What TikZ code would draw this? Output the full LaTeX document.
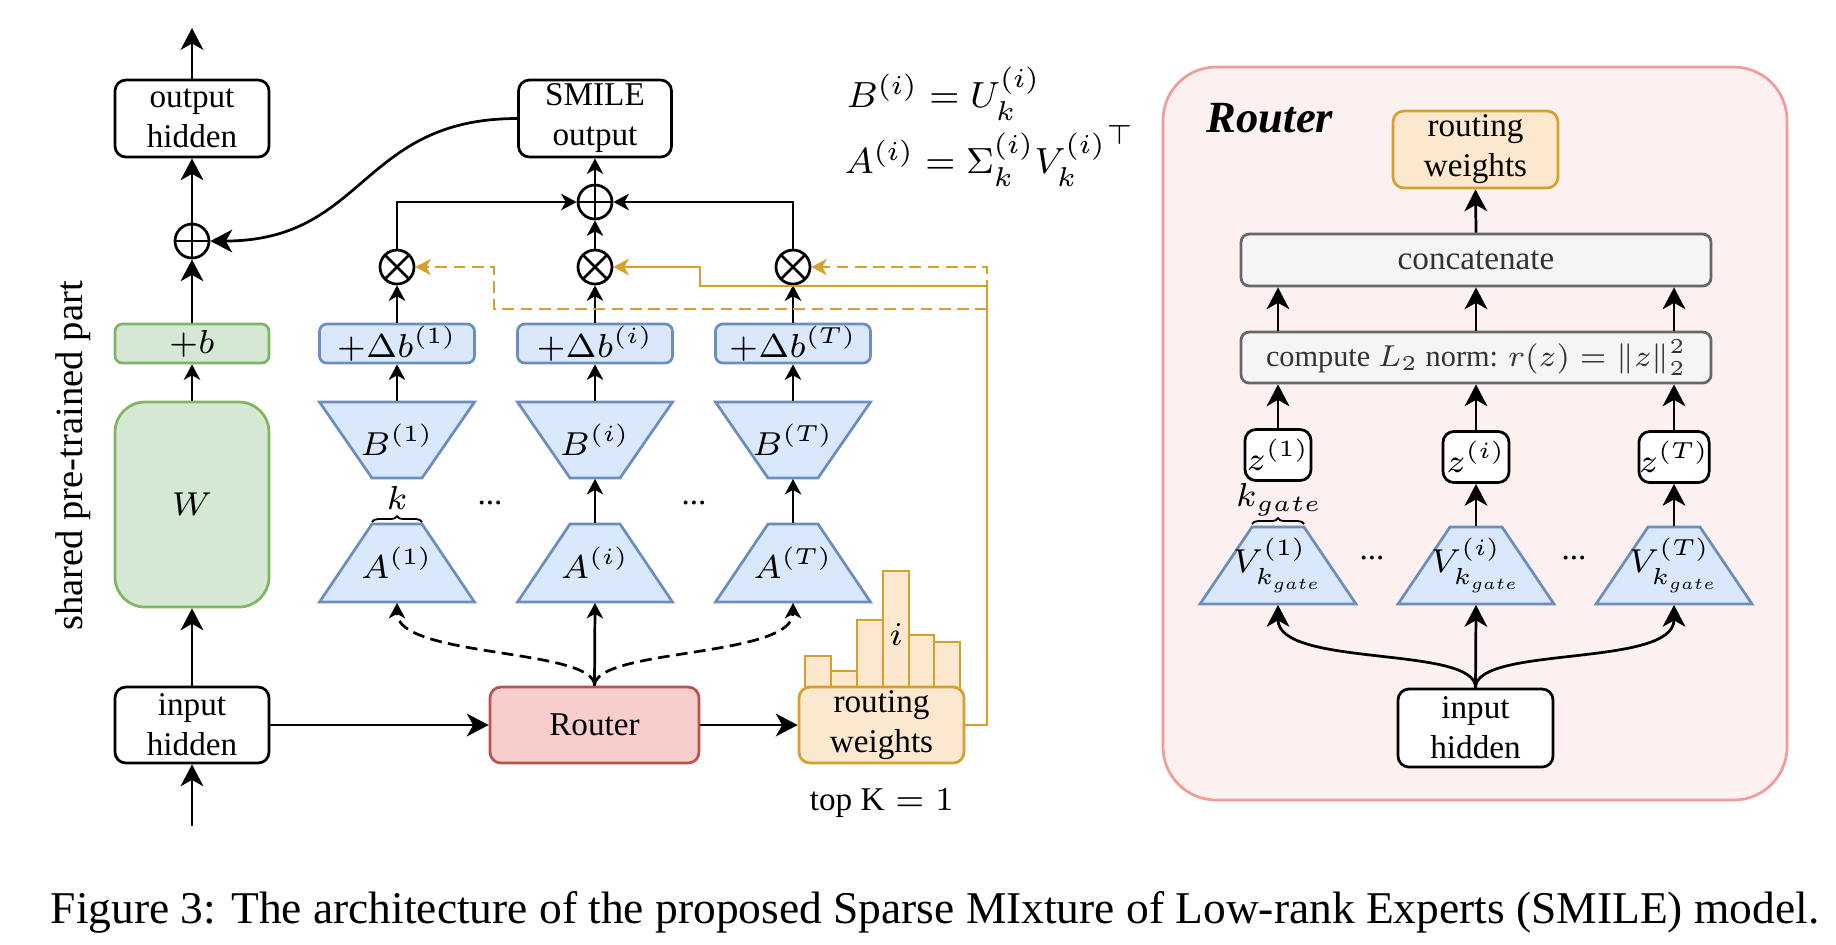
\RequirePackage{fix-cm}
\documentclass[tikz,border=0pt]{standalone}
\usepackage{fontspec}
\setmainfont{Liberation Serif}
\usetikzlibrary{arrows.meta,decorations.pathreplacing,calc}

\definecolor{grnF}{HTML}{D5E8D4}\definecolor{grnD}{HTML}{82B366}
\definecolor{bluF}{HTML}{DAE8FC}\definecolor{bluD}{HTML}{6C8EBF}
\definecolor{redF}{HTML}{F8CECC}\definecolor{redD}{HTML}{B85450}
\definecolor{orgF}{HTML}{FCE7CF}\definecolor{ylwC}{HTML}{D6A02D}
\definecolor{gryF}{HTML}{F5F5F5}\definecolor{gryD}{HTML}{666666}\definecolor{gryT}{HTML}{333333}
\definecolor{pnkF}{HTML}{FCF0F0}\definecolor{pnkD}{HTML}{F19C99}

\tikzset{
  base/.style={font=\fontsize{7.3}{8.8}\selectfont, inner sep=0pt, align=center},
  sz/.style 2 args={minimum width={#1*0.22pt}, minimum height={#2*0.22pt}},
  plainbox/.style={base, draw=black, fill=white, line width=0.6pt, rounded corners=2.4pt},
  greenbox/.style={base, draw=grnD, fill=grnF, line width=0.6pt, rounded corners=1.6pt},
  bluebox/.style={base, draw=bluD, fill=bluF, line width=0.6pt, rounded corners=1.6pt},
  redbox/.style={base, draw=redD, fill=redF, line width=0.6pt, rounded corners=2.4pt},
  orangebox/.style={base, draw=ylwC, fill=orgF, line width=0.6pt, rounded corners=2.4pt},
  greybox/.style={base, draw=gryD, fill=gryF, text=gryT, line width=0.6pt, rounded corners=1.8pt},
  trapdraw/.style={draw=bluD, fill=bluF, line width=0.6pt},
  trapnode/.style={base},
  conn/.style={draw=black, line width=0.6pt},
  ylw/.style={draw=ylwC, line width=0.6pt},
  ydash/.style={dash pattern=on 2.6pt off 1.4pt},
  kdash/.style={dash pattern=on 2.6pt off 1.4pt},
  arrbig/.style={-{Stealth[length=4.8pt,width=5pt,inset=1.4pt]}},
  arrmed/.style={-{Stealth[length=3.4pt,width=3.6pt,inset=1pt]}},
  sumnode/.style={circle, draw=black, fill=white, line width=0.6pt, minimum size={34*0.22pt}, inner sep=0pt,
    path picture={\draw[line width=0.6pt] (path picture bounding box.north) -- (path picture bounding box.south)
      (path picture bounding box.west) -- (path picture bounding box.east);}},
  prodnode/.style={circle, draw=black, fill=white, line width=0.6pt, minimum size={34*0.22pt}, inner sep=0pt,
    path picture={\draw[line width=0.6pt] (path picture bounding box.north west) -- (path picture bounding box.south east)
      (path picture bounding box.north east) -- (path picture bounding box.south west);}},
  brc/.style={decorate, decoration={brace, amplitude=1.3pt}, line width=0.4pt},
  bar/.style={draw=ylwC, fill=orgF, line width=0.6pt}
}

% #1 name, #2 cx, #3 cy, #4 half wide side, #5 half narrow side, #6 half height, #7 label
\newcommand{\TrapUp}[7]{%
  \path[trapdraw] ({#2-#4},{#3+#6}) -- ({#2+#4},{#3+#6}) -- ({#2+#5},{#3-#6}) -- ({#2-#5},{#3-#6}) -- cycle;
  \node[trapnode, minimum width={2*#5*0.22pt}, minimum height={2*#6*0.22pt}] (#1) at (#2,#3) {#7};}
\newcommand{\TrapDown}[7]{%
  \path[trapdraw] ({#2-#4},{#3-#6}) -- ({#2+#4},{#3-#6}) -- ({#2+#5},{#3+#6}) -- ({#2-#5},{#3+#6}) -- cycle;
  \node[trapnode, minimum width={2*#5*0.22pt}, minimum height={2*#6*0.22pt}] (#1) at (#2,#3) {#7};}

\begin{document}
\begin{tikzpicture}[x=0.22pt,y=-0.22pt]
\useasboundingbox (0,0) rectangle (1836,944);

% ---------------- left part ----------------
\node[rotate=90, font=\fontsize{8.5}{10}\selectfont, inner sep=0pt] (shared) at (73,456) {shared pre-trained part};

\node[plainbox, sz={154}{77}] (outH) at (192,118.5) {output\\hidden};
\coordinate (outTop) at (192,28);
\node[sumnode] (sumL) at (192,241) {};
\node[greenbox, sz={154}{39}] (bL) at (192,343.5) {$+b$};
\node[greenbox, rounded corners=6.6pt, sz={154}{205}] (W) at (192,504.5) {$W$};
\node[plainbox, sz={154}{76}] (inH) at (192,725) {input\\hidden};
\coordinate (inBot) at (192,826);

\node[plainbox, sz={153}{77}] (SMILE) at (595,118.5) {SMILE\\output};
\node[sumnode] (sumS) at (595,202) {};

\node[prodnode] (prod1) at (397,267) {};
\node[prodnode] (prodi) at (595,267) {};
\node[prodnode] (prodT) at (793,267) {};

\node[bluebox, sz={155}{39}] (db1) at (397,343.5) {$+\Delta b^{(1)}$};
\node[bluebox, sz={155}{39}] (dbi) at (595,343.5) {$+\Delta b^{(i)}$};
\node[bluebox, sz={155}{39}] (dbT) at (793,343.5) {$+\Delta b^{(T)}$};

\TrapDown{B1}{397}{440}{77.5}{25}{38}{$B^{(1)}$}
\TrapDown{Bi}{595}{440}{77.5}{25}{38}{$B^{(i)}$}
\TrapDown{BT}{793}{440}{77.5}{25}{38}{$B^{(T)}$}
\TrapUp{A1}{397}{563}{77.5}{25}{39}{$A^{(1)}$}
\TrapUp{Ai}{595}{563}{77.5}{25}{39}{$A^{(i)}$}
\TrapUp{AT}{793}{563}{77.5}{25}{39}{$A^{(T)}$}

\draw[brc] (372,522) -- (422,522);
\node[base] (klab) at (397,498) {$k$};
\node[base] (dotsA) at (490,503) {...};
\node[base] (dotsB) at (694,503) {...};

\node[anchor=base west, inner sep=0pt, font=\fontsize{8}{9.6}\selectfont] (eqB) at (846,107) {$B^{(i)} = U_k^{(i)}$};
\node[anchor=base west, inner sep=0pt, font=\fontsize{8}{9.6}\selectfont] (eqA) at (844,173) {$A^{(i)} = \Sigma_k^{(i)}{V_k^{(i)}}^{\top}$};

\node[redbox, sz={209}{76}] (Router) at (594.5,725) {Router};

% histogram
\path[bar] (805,690) rectangle (831,656);
\path[bar] (831,690) rectangle (857,671);
\path[bar] (857,690) rectangle (883,620);
\path[bar] (883,690) rectangle (909,571);
\path[bar] (909,690) rectangle (934,635);
\path[bar] (934,690) rectangle (960,642);
\node[base] (ilab) at (896,634) {$i$};
\node[orangebox, sz={165}{76}] (rwL) at (881.5,725) {routing\\weights};
\node[base] (topk) at (882,803) {$\mathrm{top\ K} = 1$};

% connectors left
\draw[conn,arrbig] (outH.north) -- (outTop);
\draw[conn,arrbig] (sumL.north) -- (outH.south);
\draw[conn,arrbig] (bL.north) -- (sumL.south);
\draw[conn,arrmed] (W.north) -- (bL.south);
\draw[conn,arrbig] (inH.north) -- (W.south);
\draw[conn,arrbig] (inBot) -- (inH.south);
\draw[conn,arrbig] (inH.east) -- (Router.west);
\draw[conn,arrbig] (Router.east) -- (rwL.west);
\draw[conn,arrbig] (SMILE.west) .. controls (360,118.5) and (366,241) .. (sumL.east);
\draw[conn,arrmed] (sumS.north) -- (SMILE.south);
\draw[conn,arrmed] (prodi.north) -- (sumS.south);
\draw[conn,arrmed] (prod1.north) |- (sumS.west);
\draw[conn,arrmed] (prodT.north) |- (sumS.east);
\draw[conn,arrmed] (db1.north) -- (prod1.south);
\draw[conn,arrmed] (dbi.north) -- (prodi.south);
\draw[conn,arrmed] (dbT.north) -- (prodT.south);
\draw[conn,arrmed] (B1.north) -- (db1.south);
\draw[conn,arrmed] (Bi.north) -- (dbi.south);
\draw[conn,arrmed] (BT.north) -- (dbT.south);
\draw[conn,arrmed] (Ai.north) -- (Bi.south);
\draw[conn,arrmed] (AT.north) -- (BT.south);
\draw[conn,arrmed] (Router.north) -- (Ai.south);
\draw[conn,kdash,arrmed] (Router.north) .. controls (595,648) and (397,658) .. (A1.south);
\draw[conn,kdash,arrmed] (Router.north) .. controls (595,648) and (793,658) .. (AT.south);

% yellow routing connectors
\coordinate (ycorner) at (987,725);
\coordinate (ybranch) at (987,309);
\draw[ylw,arrmed] (rwL.east) -- (ycorner) -- (987,286) -- (700,286) -- (700,267) -- (prodi.east);
\draw[ylw,ydash,arrmed] (rwL.east) -- (ycorner) -- (987,267) -- (prodT.east);
\draw[ylw,ydash,arrmed] (ybranch) -- (494,309) -- (494,267) -- (prod1.east);

% ---------------- right part (Router) ----------------
\node[draw=pnkD, fill=pnkF, line width=0.6pt, rounded corners=11.7pt, sz={624}{733}, inner sep=0pt] (panel) at (1475,433.5) {};
\node[inner sep=0pt, font=\fontsize{9.8}{12}\selectfont\bfseries\itshape] (rtitle) at (1270,118) {Router};

\node[orangebox, sz={165}{77}] (rwR) at (1475.5,149.5) {routing\\weights};
\node[greybox, sz={470}{52}] (concat) at (1476,260) {concatenate};
\node[greybox, sz={470}{51}] (comp) at (1476,357.5) {\resizebox{92.4pt}{!}{compute $L_2$ norm: $r(z) = \|z\|_2^2$}};

\node[plainbox, sz={66}{51}] (z1) at (1278,455) {$z^{(1)}$};
\node[plainbox, sz={66}{51}] (zi) at (1476,457) {$z^{(i)}$};
\node[plainbox, sz={66}{51}] (zT) at (1674,457) {$z^{(T)}$};

\TrapUp{V1}{1278}{565.5}{78}{26}{38.5}{$V_{k_{gate}}^{(1)}$}
\TrapUp{Vi}{1476}{565.5}{78}{26}{38.5}{$V_{k_{gate}}^{(i)}$}
\TrapUp{VT}{1674}{565.5}{78}{26}{38.5}{$V_{k_{gate}}^{(T)}$}

\draw[brc] (1252,524) -- (1304,524);
\node[base] (kglab) at (1279,500) {$k_{gate}$};
\node[base] (dotsC) at (1372,558) {...};
\node[base] (dotsD) at (1574,558) {...};

\node[plainbox, sz={155}{78}] (inR) at (1475.5,728) {input\\hidden};

\draw[conn,arrbig] (concat.north) -- (rwR.south);
\draw[conn,arrbig] (comp.north -| z1) -- (concat.south -| z1);
\draw[conn,arrbig] (comp.north -| zi) -- (concat.south -| zi);
\draw[conn,arrbig] (comp.north -| zT) -- (concat.south -| zT);
\draw[conn,arrbig] (z1.north) -- (comp.south -| z1);
\draw[conn,arrbig] (zi.north) -- (comp.south -| zi);
\draw[conn,arrbig] (zT.north) -- (comp.south -| zT);
\draw[conn,arrbig] (Vi.north) -- (zi.south);
\draw[conn,arrbig] (VT.north) -- (zT.south);
\draw[conn,arrbig] (inR.north) -- (Vi.south);
\draw[conn,arrbig] (inR.north) .. controls (1476,645) and (1278,668) .. (V1.south);
\draw[conn,arrbig] (inR.north) .. controls (1476,645) and (1674,668) .. (VT.south);

% caption
\node[anchor=base west, inner sep=0pt, font=\fontsize{10}{12}\selectfont] (cap) at (50,923) {Figure 3: The architecture of the proposed Sparse MIxture of Low-rank Experts (SMILE) model.};
\end{tikzpicture}
\end{document}
